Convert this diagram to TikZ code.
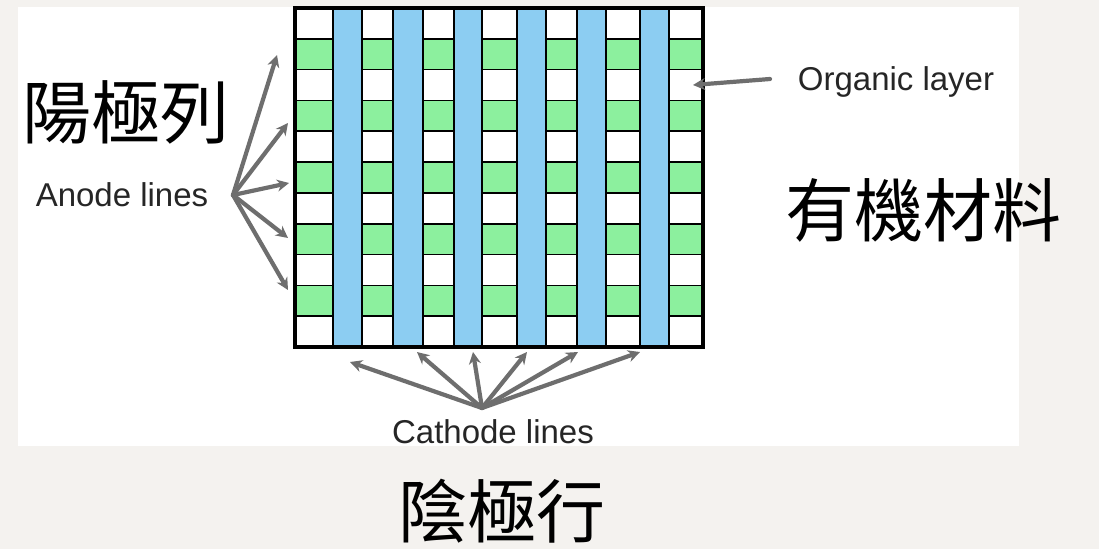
\documentclass[tikz,border=0pt]{standalone}
\usepackage{fontspec}
\setmainfont{Liberation Sans}
\newfontfamily\cjk{Noto Sans CJK TC}
\usetikzlibrary{arrows.meta}
\definecolor{bg}{HTML}{F4F2EF}
\definecolor{cellgreen}{HTML}{8CF09E}
\definecolor{stripeblue}{HTML}{8CCDF2}
\definecolor{arrowgray}{HTML}{6E6E6E}
\begin{document}
\begin{tikzpicture}[x=1pt,y=-1pt,
  en/.style={inner sep=0pt, font=\fontsize{33}{36}\selectfont, text=black!85},
  zh/.style={inner sep=0pt, font=\cjk\fontsize{69}{72}\selectfont},
  arr/.style={draw=arrowgray, line width=4.2pt, line cap=round,
    -{Stealth[length=12pt,width=12pt]}},
  cellbox/.style={draw=black, line width=1.6pt},
]
\fill[bg] (0,0) rectangle (1099,549);
\useasboundingbox (0,0) rectangle (1099,549);
\fill[white] (18,7) rectangle (1019,446);

% cell columns
\foreach \xa/\xb in {295/333, 362/393, 423/454, 482/517, 546/577, 606/640, 669/703} {
  \foreach \r in {0,...,10} {
    \pgfmathsetmacro\ya{8+\r*30.82}
    \pgfmathsetmacro\yb{8+(\r+1)*30.82}
    \ifodd\r
      \filldraw[cellbox, fill=cellgreen] (\xa,\ya) rectangle (\xb,\yb);
    \else
      \filldraw[cellbox, fill=white] (\xa,\ya) rectangle (\xb,\yb);
    \fi
  }
}
% cathode stripes
\foreach \xa/\xb in {333/362, 393/423, 454/482, 517/546, 577/606, 640/669} {
  \filldraw[cellbox, fill=stripeblue] (\xa,8) rectangle (\xb,347);
}
\node[draw=black, line width=3.5pt, minimum width=408pt, minimum height=339pt,
  inner sep=0pt] (grid) at (499,177.5) {};

% texts
\node[en] (anode) at (122,195) {Anode lines};
\node[en] (cathode) at (493,432) {Cathode lines};
\node[en] (organic) at (896,82) {Organic layer};
\node[zh] (yang) at (126,112) {陽極列};
\node[zh] (youji) at (923,210) {有機材料};
\node[zh] (yin) at (502,511) {陰極行};

% anode arrows
\coordinate (ahub) at (233,195);
\coordinate (a1) at (277,55);
\coordinate (a2) at (288,123);
\coordinate (a3) at (289,183);
\coordinate (a4) at (288,238);
\coordinate (a5) at (288,290);
\foreach \t in {a1,a2,a3,a4,a5} \draw[arr] (ahub) -- (\t);

% cathode arrows
\coordinate (chub) at (482,408);
\coordinate (c1) at (350,362);
\coordinate (c2) at (417,352);
\coordinate (c3) at (473,352);
\coordinate (c4) at (527,352);
\coordinate (c5) at (578,352);
\coordinate (c6) at (640,352);
\foreach \t in {c1,c2,c3,c4,c5,c6} \draw[arr] (chub) -- (\t);

% organic arrow
\coordinate (ostart) at (770,79);
\coordinate (oend) at (693,85);
\draw[arr] (ostart) -- (oend);
\end{tikzpicture}
\end{document}
